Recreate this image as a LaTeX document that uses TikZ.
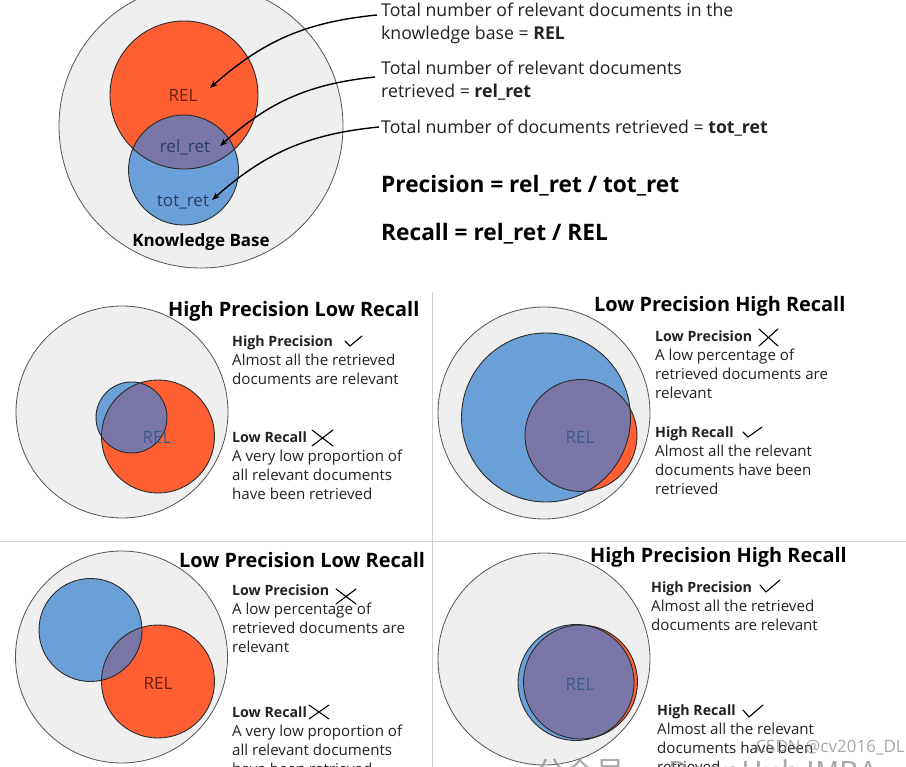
\documentclass[tikz,border=0pt]{standalone}
\usepackage{fontspec}
\setmainfont{Open Sans}
\newfontfamily\cjk{Noto Sans CJK SC}
\usetikzlibrary{arrows.meta}
\definecolor{orng}{HTML}{FF5F33}
\definecolor{blu}{HTML}{6B9FD7}
\definecolor{purp}{HTML}{7A76A8}
\definecolor{kbgray}{HTML}{EFEFEF}
\definecolor{kbline}{HTML}{555555}
\definecolor{cline}{HTML}{2A2A2A}
\definecolor{txtc}{HTML}{222222}
\definecolor{relblue}{HTML}{3D5A8C}
\definecolor{reldark}{HTML}{6E1F10}
\definecolor{divc}{HTML}{CFCFCF}
\begin{document}
\begin{tikzpicture}[x=1pt,y=-1pt,
  kb/.style={fill=kbgray,draw=kbline,line width=0.8pt},
  relfill/.style={fill=orng},
  retfill/.style={fill=blu},
  ring/.style={draw=cline,line width=0.9pt},
  body/.style={anchor=base west,inner sep=0,text=txtc,font=\fontsize{15.1}{17}\selectfont},
  bodyb/.style={body,font=\fontsize{14.2}{17}\selectfont\bfseries},
  top/.style={anchor=base west,inner sep=0,text=txtc,font=\fontsize{17.7}{20}\selectfont},
  formula/.style={anchor=base west,inner sep=0,text=black,font=\fontsize{22.7}{26}\selectfont\bfseries},
  qtitle/.style={anchor=base west,inner sep=0,text=black,font=\fontsize{19.9}{23}\selectfont\bfseries},
  vlab/.style={anchor=base,inner sep=0,font=\fontsize{17}{20}\selectfont},
  arr/.style={-{Stealth[length=8pt,width=6pt]},line width=1.4pt,black},
  tick/.style={line width=1.1pt,black,line cap=round,line join=round},
  wm/.style={inner sep=0,text=black!45,opacity=0.75}
]
\useasboundingbox (0,0) rectangle (906,767);
\fill[white] (0,0) rectangle (906,767);

% dividers
\draw[divc,line width=1pt] (432,292) -- (432,767);
\draw[divc,line width=1pt] (0,541) -- (906,541);

% ---------------- top diagram ----------------
\draw[kb] (201,126) circle[radius=142];
\fill[relfill] (184,95) circle[radius=74];
\fill[retfill] (183.5,170) circle[radius=55];
\begin{scope}
  \clip (184,95) circle[radius=74];
  \fill[purp] (183.5,170) circle[radius=55];
\end{scope}
\draw[ring] (184,95) circle[radius=74];
\draw[ring] (183.5,170) circle[radius=55];
\node[vlab,text=reldark] (trel) at (183,102) {REL};
\node[vlab,text=relblue!70!black,font=\fontsize{17}{20}\selectfont] (trelret) at (185,153) {rel\_ret};
\node[vlab,text=relblue!70!black,font=\fontsize{17}{20}\selectfont] (ttotret) at (183,207) {tot\_ret};
\node[vlab,text=black,font=\fontsize{17}{20}\selectfont\bfseries] (kbl) at (201,247) {Knowledge Base};

\node[top] (d1a) at (381,17) {Total number of relevant documents in the};
\node[top] (d1b) at (381,40) {knowledge base = \textbf{REL}};
\node[top] (d2a) at (381,75) {Total number of relevant documents};
\node[top] (d2b) at (381,98) {retrieved = \textbf{rel\_ret}};
\node[top] (d3a) at (381,134) {Total number of documents retrieved = \textbf{tot\_ret}};
\node[formula] (fp) at (381,193) {Precision = rel\_ret / tot\_ret};
\node[formula] (fr) at (381,241) {Recall = rel\_ret / REL};

\coordinate (a1s) at (377,15);
\coordinate (a1e) at (210,88);
\coordinate (a2s) at (375,77);
\coordinate (a2e) at (220,146);
\coordinate (a3s) at (379,127);
\coordinate (a3e) at (212,200);
\draw[arr] (a1s) to[bend right=18] (a1e);
\draw[arr] (a2s) to[bend right=18] (a2e);
\draw[arr] (a3s) to[bend right=18] (a3e);

% ---------------- Q1: High Precision Low Recall ----------------
\draw[kb] (122,412) circle[radius=106];
\fill[retfill] (131.5,417.5) circle[radius=35.5];
\fill[relfill] (158,436.5) circle[radius=56.5];
\begin{scope}
  \clip (158,436.5) circle[radius=56.5];
  \fill[purp] (131.5,417.5) circle[radius=35.5];
\end{scope}
\draw[ring] (158,436.5) circle[radius=56.5];
\draw[ring] (131.5,417.5) circle[radius=35.5];
\node[vlab,text=relblue] (q1rel) at (157,444) {REL};
\node[qtitle] (q1t) at (168,317) {High Precision Low Recall};
\node[bodyb] (q1h1) at (232,347) {High Precision};
\node[body] (q1l1) at (232,366) {Almost all the retrieved};
\node[body] (q1l2) at (232,385) {documents are relevant};
\node[bodyb] (q1h2) at (232,443) {Low Recall};
\node[body] (q1l3) at (232,462) {A very low proportion of};
\node[body] (q1l4) at (232,481) {all relevant documents};
\node[body] (q1l5) at (232,500) {have been retrieved};
\draw[tick] (345,341) -- (350,346) -- (362,336);
\draw[tick] (312,430) -- (333,446) (312,446) -- (333,430);

% ---------------- Q2: Low Precision High Recall ----------------
\draw[kb] (544,413) circle[radius=106];
\fill[relfill] (581,435.5) circle[radius=56];
\fill[retfill] (546,417.5) circle[radius=84.5];
\begin{scope}
  \clip (581,435.5) circle[radius=56];
  \fill[purp] (546,417.5) circle[radius=84.5];
\end{scope}
\draw[ring] (546,417.5) circle[radius=84.5];
\draw[ring] (581,435.5) circle[radius=56];
\node[vlab,text=relblue] (q2rel) at (580,444) {REL};
\node[qtitle] (q2t) at (594,312) {Low Precision High Recall};
\node[bodyb] (q2h1) at (655,342) {Low Precision};
\node[body] (q2l1) at (655,361) {A low percentage of};
\node[body] (q2l2) at (655,380) {retrieved documents are};
\node[body] (q2l3) at (655,399) {relevant};
\node[bodyb] (q2h2) at (655,438) {High Recall};
\node[body] (q2l4) at (655,457) {Almost all the relevant};
\node[body] (q2l5) at (655,476) {documents have been};
\node[body] (q2l6) at (655,495) {retrieved};
\draw[tick] (759,329) -- (778,346) (759,346) -- (778,329);
\draw[tick] (743,432) -- (748,437) -- (762,427);

% ---------------- Q3: Low Precision Low Recall ----------------
\draw[kb] (121.5,657) circle[radius=106];
\fill[retfill] (90.5,630) circle[radius=51.5];
\fill[relfill] (158,681.5) circle[radius=56.5];
\begin{scope}
  \clip (158,681.5) circle[radius=56.5];
  \fill[purp] (90.5,630) circle[radius=51.5];
\end{scope}
\draw[ring] (90.5,630) circle[radius=51.5];
\draw[ring] (158,681.5) circle[radius=56.5];
\node[vlab,text=reldark] (q3rel) at (158,689) {REL};
\node[qtitle] (q3t) at (179,567) {Low Precision Low Recall};
\node[bodyb] (q3h1) at (232,595) {Low Precision};
\node[body] (q3l1) at (232,614) {A low percentage of};
\node[body] (q3l2) at (232,633) {retrieved documents are};
\node[body] (q3l3) at (232,652) {relevant};
\node[bodyb] (q3h2) at (232,717) {Low Recall};
\node[body] (q3l4) at (232,736) {A very low proportion of};
\node[body] (q3l5) at (232,755) {all relevant documents};
\node[body] (q3l6) at (232,774) {have been retrieved};
\draw[tick] (336,589) -- (356,604) (336,604) -- (356,589);
\draw[tick] (309,705) -- (329,719) (309,719) -- (329,705);

% ---------------- Q4: High Precision High Recall ----------------
\draw[kb] (544,659) circle[radius=106];
\fill[relfill] (580.5,682) circle[radius=57];
\fill[retfill] (576,682.5) circle[radius=58];
\begin{scope}
  \clip (580.5,682) circle[radius=57];
  \fill[purp] (576,682.5) circle[radius=58];
\end{scope}
\draw[ring] (580.5,682) circle[radius=57];
\draw[ring] (576,682.5) circle[radius=58];
\node[vlab,text=relblue] (q4rel) at (580,690) {REL};
\node[qtitle] (q4t) at (590,562) {High Precision High Recall};
\node[bodyb] (q4h1) at (651,592) {High Precision};
\node[body] (q4l1) at (651,611) {Almost all the retrieved};
\node[body] (q4l2) at (651,630) {documents are relevant};
\node[bodyb] (q4h2) at (657,715) {High Recall};
\node[body] (q4l3) at (657,734) {Almost all the relevant};
\node[body] (q4l4) at (657,753) {documents have been};
\node[body] (q4l5) at (657,772) {retrieved};
\draw[tick] (760,585) -- (766,592) -- (780,580);
\draw[tick] (743,710) -- (749,717) -- (763,705);

% watermarks
\node[wm,anchor=base east,font=\fontsize{17}{20}\selectfont] (wm1) at (905,752) {CSDN @cv2016\_DL};
\node[wm,anchor=base west,font=\fontsize{30}{34}\selectfont\cjk] (wm2) at (535,783) {公众号 · DeepHub IMBA};
\end{tikzpicture}
\end{document}
